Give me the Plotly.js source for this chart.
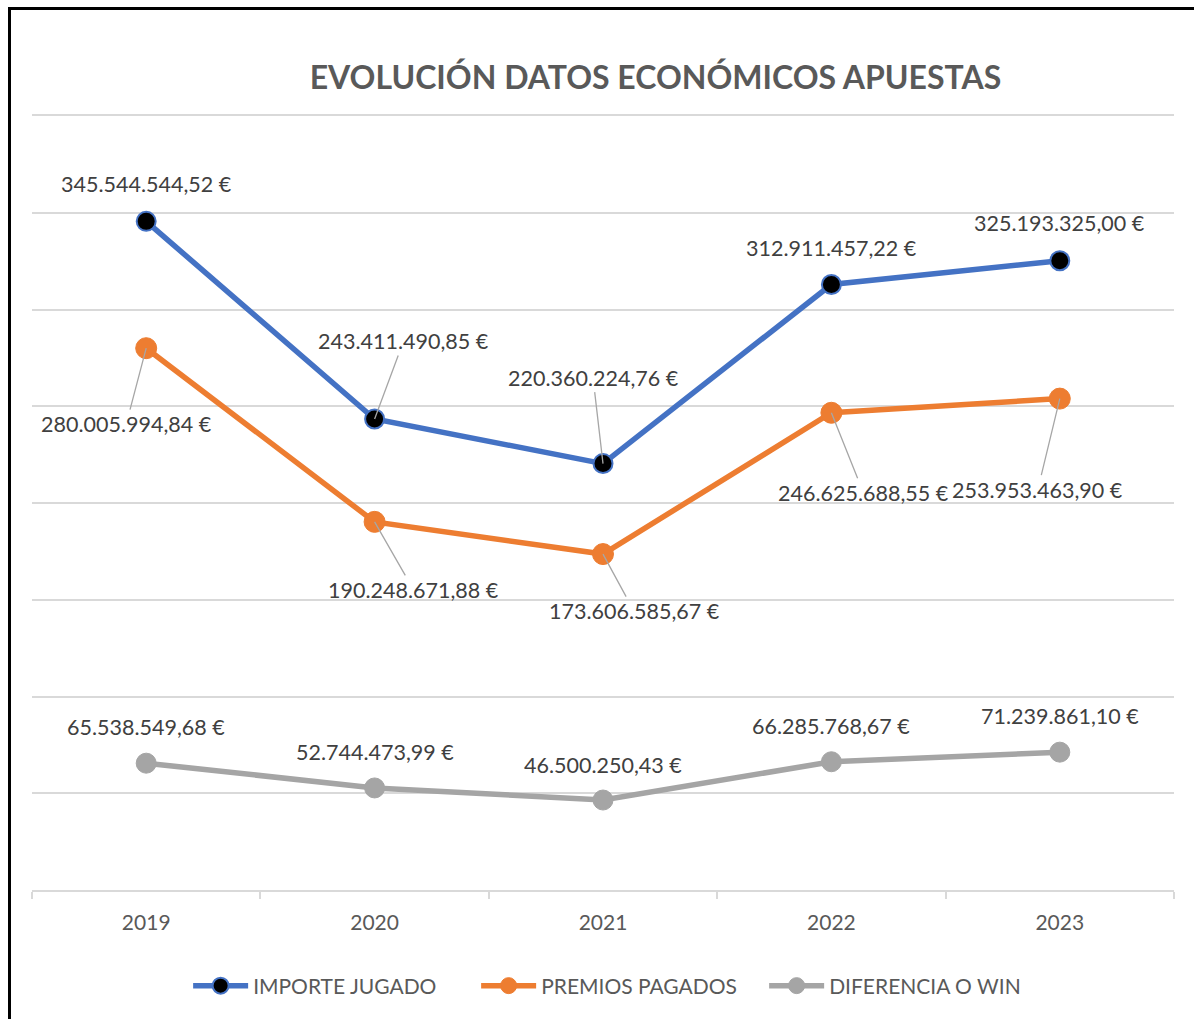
<!DOCTYPE html>
<html>
<head>
<meta charset="utf-8">
<script src="https://cdn.plot.ly/plotly-3.0.1.min.js"></script>
<style>
  html, body { margin: 0; padding: 0; background: #ffffff; overflow: hidden; }
  #chart { position: absolute; left: 0; top: 0; width: 1194px; height: 1019px; }
  #frame { position: absolute; left: 8px; top: 7px; width: 1400px; height: 1400px;
           border-left: 3px solid #000; border-top: 3px solid #000; pointer-events: none; }
</style>
</head>
<body>
<div id="chart"></div>
<div id="frame"></div>
<script>
// ---- data ----
const years = ['2019', '2020', '2021', '2022', '2023'];
const importeJugado = [345544544.52, 243411490.85, 220360224.76, 312911457.22, 325193325.00];
const premiosPagados = [280005994.84, 190248671.88, 173606585.67, 246625688.55, 253953463.90];
const diferenciaWin = [65538549.68, 52744473.99, 46500250.43, 66285768.67, 71239861.10];
const seriesNames = ['IMPORTE JUGADO', 'PREMIOS PAGADOS', 'DIFERENCIA O WIN'];

// ---- label placement (pixel offsets from the point, leader line on/off) ----
const importeLabelPos = [[0, -37, false], [29, -78, true], [-10, -86, true], [0, -37, false], [0, -38, false]];
const premiosLabelPos = [[-20, 76, true], [39, 68, true], [31, 57, true], [32, 80, true], [-22, 91, true]];
const diferenciaLabelPos = [[0, -36, false], [0, -36, false], [0, -35, false], [0, -36, false], [0, -36, false]];

function fmt(v) {
  const parts = v.toFixed(2).split('.');
  return parts[0].replace(/\B(?=(\d{3})+(?!\d))/g, '.') + ',' + parts[1] + ' €';
}

const FONT = 'Lato, "Open Sans", sans-serif';

// x is the category position of years[i] on the category axis
function makeAnnotations(values, pos) {
  return values.map((v, i) => ({
    x: years.indexOf(years[i]), y: v, xref: 'x', yref: 'y',
    text: fmt(v),
    showarrow: true,
    ax: pos[i][0], ay: pos[i][1],
    arrowhead: 0, arrowwidth: 1.3,
    arrowcolor: pos[i][2] ? '#A6A6A6' : 'rgba(255,255,255,0)',
    standoff: 0,
    font: { family: FONT, size: 21.5, color: '#404040' }
  }));
}

const traces = [
  {
    x: years, y: importeJugado, name: seriesNames[0], type: 'scatter', mode: 'lines+markers',
    line: { color: '#4472C4', width: 5.5 },
    marker: { color: '#000000', size: 19, line: { color: '#4472C4', width: 2 } }
  },
  {
    x: years, y: premiosPagados, name: seriesNames[1], type: 'scatter', mode: 'lines+markers',
    line: { color: '#ED7D31', width: 5.5 },
    marker: { color: '#ED7D31', size: 21, line: { color: '#ED7D31', width: 1 } }
  },
  {
    x: years, y: diferenciaWin, name: seriesNames[2], type: 'scatter', mode: 'lines+markers',
    line: { color: '#A5A5A5', width: 5.5 },
    marker: { color: '#A5A5A5', size: 20, line: { color: '#A5A5A5', width: 1 } }
  }
];

const annotations = [].concat(
  makeAnnotations(importeJugado, importeLabelPos),
  makeAnnotations(premiosPagados, premiosLabelPos),
  makeAnnotations(diferenciaWin, diferenciaLabelPos)
);

const layout = {
  width: 1194, height: 1019,
  margin: { l: 32, r: 20, t: 116, b: 129 },
  paper_bgcolor: '#ffffff', plot_bgcolor: '#ffffff',
  font: { family: FONT, color: '#595959' },
  title: {
    text: '<b>EVOLUCIÓN DATOS ECONÓMICOS APUESTAS</b>',
    font: { family: FONT, size: 32, color: '#595959' },
    xref: 'container', yref: 'container',
    x: 0.549, xanchor: 'center', y: 0.9235, yanchor: 'middle'
  },
  xaxis: {
    type: 'category', range: [-0.5, 4.5],
    tickson: 'boundaries', ticks: 'outside', ticklen: 7, tickcolor: '#D9D9D9', tickwidth: 1.5,
    showline: true, mirror: true, linecolor: '#D9D9D9', linewidth: 2,
    showgrid: false, zeroline: false,
    ticklabelstandoff: 13,
    tickfont: { family: FONT, size: 21, color: '#595959' },
    fixedrange: true
  },
  yaxis: {
    range: [0, 400000000], tick0: 0, dtick: 50000000,
    showticklabels: false, ticks: '',
    showgrid: true, gridcolor: '#D9D9D9', gridwidth: 1.5,
    zeroline: false, showline: false, fixedrange: true
  },
  showlegend: true,
  legend: {
    orientation: 'h', x: 0.515, xanchor: 'center', y: -0.124, yanchor: 'middle',
    font: { family: FONT, size: 21, color: '#595959' },
    itemwidth: 55, entrywidth: 218, entrywidthmode: 'pixels', traceorder: 'normal'
  },
  annotations: annotations
};

Plotly.newPlot('chart', traces, layout, { displayModeBar: false });
</script>
</body>
</html>
